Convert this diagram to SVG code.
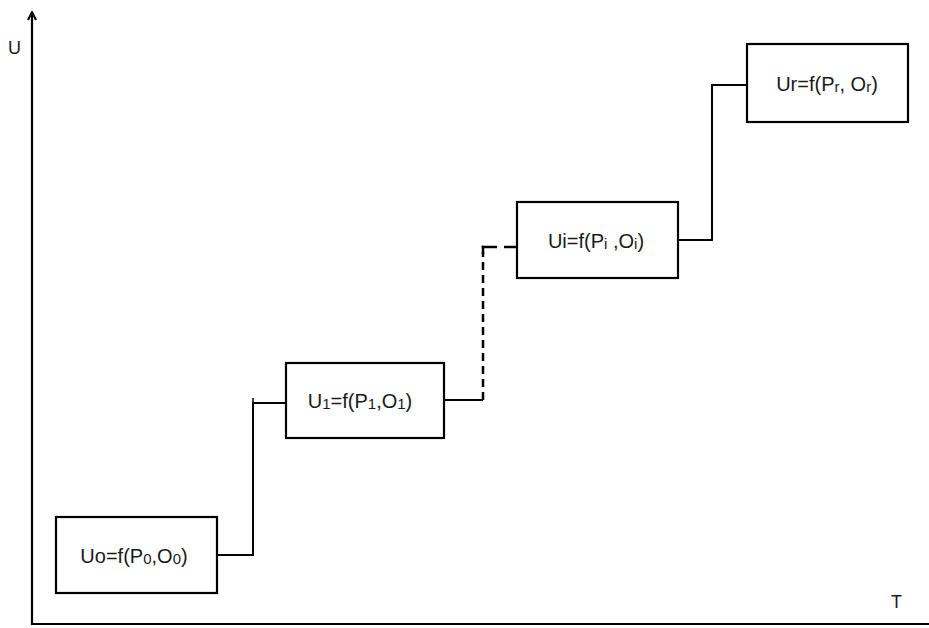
<svg xmlns="http://www.w3.org/2000/svg" width="929" height="628" viewBox="0 0 929 628">
<style>
.box{fill:#fff;stroke:#000;stroke-width:2.2}
.lbl{font-family:"Liberation Sans",Arial,sans-serif;font-size:20px;fill:#1a1a1a;text-anchor:middle}
.ax{font-family:"Liberation Sans",Arial,sans-serif;font-size:18px;fill:#1a1a1a}
.sub{font-size:15px}
.c{fill:none;stroke:#000;stroke-width:2}
.d{fill:none;stroke:#000;stroke-width:2.5;stroke-dasharray:8,5}
</style>
<defs>
<marker id="ah" markerWidth="10" markerHeight="10" refX="9" refY="5" orient="auto" markerUnits="userSpaceOnUse">
<path d="M1,1 L9,5 L1,9" fill="none" stroke="#000" stroke-width="2"/>
</marker>
</defs>
<g id="axes">
<line x1="32" y1="625" x2="32" y2="12" stroke="#000" stroke-width="2.2" marker-end="url(#ah)"/>
<line x1="31" y1="624" x2="929" y2="624" stroke="#000" stroke-width="2.2"/>
<text class="ax" x="8" y="54">U</text>
<text class="ax" x="891" y="608">T</text>
</g>
<g id="connectors">
<polyline class="c" points="217,555 253,555 253,403 286,403"/>
<line x1="253" y1="398" x2="253" y2="408" stroke="#000" stroke-width="1.5"/>
<polyline class="c" points="444,400 483,400"/>
<line class="d" x1="483" y1="400" x2="483" y2="252"/>
<line x1="481.75" y1="247" x2="497" y2="247" stroke="#000" stroke-width="2.5"/>
<line x1="483" y1="245.75" x2="483" y2="254" stroke="#000" stroke-width="2.5"/>
<line x1="504" y1="247" x2="517" y2="247" stroke="#000" stroke-width="2.5"/>
<polyline class="c" points="678,240 712,240 712,85 747,85"/>
</g>
<g id="n0">
<rect class="box" x="56" y="517" width="161" height="76"/>
<text class="lbl" x="134" y="563">Uo=f(P<tspan class="sub" dy="1">0</tspan><tspan dy="-1">,O</tspan><tspan class="sub" dy="1">0</tspan><tspan dy="-1">)</tspan></text>
</g>
<g id="n1">
<rect class="box" x="286" y="363" width="158" height="75"/>
<text class="lbl" x="360" y="408">U<tspan class="sub" dy="1">1</tspan><tspan dy="-1">=f(P</tspan><tspan class="sub" dy="1">1</tspan><tspan dy="-1">,O</tspan><tspan class="sub" dy="1">1</tspan><tspan dy="-1">)</tspan></text>
</g>
<g id="ni">
<rect class="box" x="517" y="202" width="161" height="76"/>
<text class="lbl" x="596" y="248">Ui=f(P<tspan class="sub" dy="1">i</tspan><tspan dy="-1"> ,O</tspan><tspan class="sub" dy="1">i</tspan><tspan dy="-1">)</tspan></text>
</g>
<g id="nr">
<rect class="box" x="747" y="44" width="161" height="78"/>
<text class="lbl" x="827" y="91">Ur=f(P<tspan class="sub" dy="1">r</tspan><tspan dy="-1">, O</tspan><tspan class="sub" dy="1">r</tspan><tspan dy="-1">)</tspan></text>
</g>
</svg>
